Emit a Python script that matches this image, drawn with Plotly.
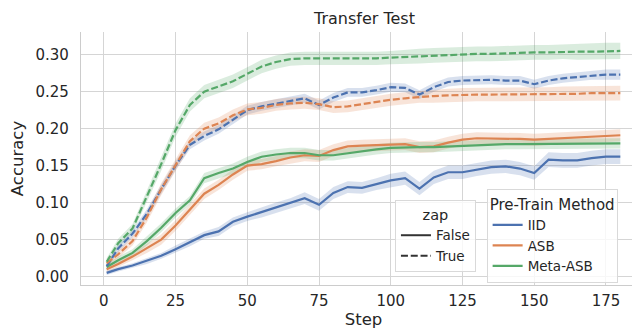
import plotly.graph_objects as go

steps = [1] + list(range(5, 181, 5))

iid_false = [0.005, 0.010, 0.015, 0.021, 0.028, 0.037, 0.046, 0.056, 0.061, 0.074, 0.081, 0.087, 0.093,
             0.099, 0.106, 0.097, 0.113, 0.121, 0.120, 0.125, 0.130, 0.133, 0.119, 0.134, 0.141, 0.141,
             0.145, 0.148, 0.149, 0.146, 0.140, 0.158, 0.157, 0.157, 0.160, 0.162, 0.162]
asb_false = [0.010, 0.017, 0.027, 0.038, 0.050, 0.069, 0.090, 0.112, 0.124, 0.138, 0.150, 0.152, 0.156,
             0.161, 0.164, 0.163, 0.171, 0.176, 0.177, 0.178, 0.178, 0.179, 0.175, 0.176, 0.181, 0.185,
             0.187, 0.187, 0.187, 0.186, 0.185, 0.186, 0.187, 0.188, 0.190, 0.191, 0.191]
meta_false = [0.013, 0.022, 0.032, 0.048, 0.066, 0.086, 0.103, 0.133, 0.140, 0.146, 0.155, 0.162, 0.165,
              0.167, 0.167, 0.164, 0.164, 0.167, 0.170, 0.172, 0.174, 0.175, 0.175, 0.175, 0.176, 0.177,
              0.178, 0.178, 0.179, 0.179, 0.179, 0.179, 0.180, 0.180, 0.180, 0.180, 0.180]
iid_true = [0.014, 0.038, 0.058, 0.085, 0.118, 0.150, 0.178, 0.190, 0.199, 0.212, 0.225, 0.230, 0.234,
            0.237, 0.241, 0.232, 0.242, 0.249, 0.249, 0.252, 0.256, 0.255, 0.246, 0.256, 0.263, 0.265,
            0.266, 0.266, 0.265, 0.265, 0.260, 0.265, 0.268, 0.270, 0.272, 0.273, 0.273]
asb_true = [0.018, 0.030, 0.048, 0.080, 0.118, 0.151, 0.183, 0.200, 0.207, 0.218, 0.226, 0.228, 0.232,
            0.234, 0.235, 0.233, 0.229, 0.230, 0.233, 0.237, 0.239, 0.241, 0.243, 0.244, 0.245, 0.246,
            0.246, 0.246, 0.246, 0.246, 0.246, 0.247, 0.247, 0.247, 0.248, 0.248, 0.248]
meta_true = [0.020, 0.045, 0.065, 0.108, 0.152, 0.198, 0.232, 0.250, 0.257, 0.264, 0.274, 0.284, 0.290,
             0.294, 0.295, 0.295, 0.295, 0.294, 0.294, 0.295, 0.296, 0.297, 0.298, 0.299, 0.300, 0.300,
             0.301, 0.301, 0.302, 0.302, 0.303, 0.303, 0.304, 0.304, 0.304, 0.305, 0.305]

# half-width of the shaded confidence band
iid_false_err = [0.003, 0.003, 0.003, 0.004, 0.004, 0.005, 0.005, 0.005, 0.006, 0.006, 0.006, 0.007, 0.007,
                 0.007, 0.008, 0.008, 0.008, 0.008, 0.008, 0.008, 0.009, 0.009, 0.009, 0.009, 0.009, 0.009,
                 0.009, 0.009, 0.009, 0.009, 0.009, 0.010, 0.010, 0.010, 0.010, 0.010, 0.010]
asb_false_err = [0.004, 0.004, 0.005, 0.006, 0.007, 0.007, 0.007, 0.007, 0.007, 0.007, 0.007, 0.007, 0.007,
                 0.008, 0.008, 0.008, 0.008, 0.008, 0.008, 0.008, 0.008, 0.008, 0.008, 0.008, 0.008, 0.008,
                 0.008, 0.008, 0.008, 0.008, 0.008, 0.008, 0.008, 0.008, 0.008, 0.008, 0.008]
meta_false_err = [0.004, 0.005, 0.005, 0.006, 0.006, 0.006, 0.006, 0.007, 0.007, 0.007, 0.007, 0.007, 0.007,
                  0.007, 0.007, 0.007, 0.007, 0.007, 0.007, 0.007, 0.007, 0.007, 0.007, 0.007, 0.007, 0.007,
                  0.007, 0.007, 0.007, 0.007, 0.007, 0.007, 0.007, 0.007, 0.007, 0.007, 0.007]
iid_true_err = [0.004, 0.005, 0.005, 0.006, 0.006, 0.006, 0.006, 0.006, 0.006, 0.006, 0.006, 0.006, 0.006,
                0.006, 0.006, 0.006, 0.006, 0.006, 0.006, 0.006, 0.006, 0.006, 0.006, 0.006, 0.006, 0.006,
                0.006, 0.006, 0.006, 0.006, 0.006, 0.006, 0.006, 0.006, 0.006, 0.007, 0.007]
asb_true_err = [0.004, 0.005, 0.006, 0.007, 0.008, 0.008, 0.008, 0.008, 0.008, 0.008, 0.008, 0.008, 0.008,
                0.008, 0.008, 0.008, 0.008, 0.008, 0.008, 0.008, 0.008, 0.008, 0.008, 0.009, 0.009, 0.009,
                0.009, 0.009, 0.009, 0.009, 0.009, 0.009, 0.010, 0.010, 0.010, 0.010, 0.010]
meta_true_err = [0.005, 0.006, 0.006, 0.008, 0.009, 0.009, 0.009, 0.009, 0.009, 0.009, 0.009, 0.009, 0.009,
                 0.009, 0.009, 0.009, 0.009, 0.009, 0.009, 0.009, 0.009, 0.010, 0.010, 0.010, 0.010, 0.010,
                 0.010, 0.010, 0.010, 0.010, 0.010, 0.010, 0.010, 0.011, 0.011, 0.011, 0.011]

methods = ["IID", "ASB", "Meta-ASB"]
zap_labels = ["False", "True"]
colors = {"IID": "#4c72b0", "ASB": "#dd8452", "Meta-ASB": "#55a868"}
fills = {"IID": "rgba(76,114,176,0.22)", "ASB": "rgba(221,132,82,0.22)", "Meta-ASB": "rgba(85,168,104,0.22)"}

series = [
    ("IID", "False", iid_false, iid_false_err),
    ("ASB", "False", asb_false, asb_false_err),
    ("Meta-ASB", "False", meta_false, meta_false_err),
    ("IID", "True", iid_true, iid_true_err),
    ("ASB", "True", asb_true, asb_true_err),
    ("Meta-ASB", "True", meta_true, meta_true_err),
]

fig = go.Figure()
for m, z, vals, err in series:
    lo = [v - e for v, e in zip(vals, err)]
    hi = [v + e for v, e in zip(vals, err)]
    fig.add_trace(go.Scatter(x=steps, y=lo, mode="lines", line=dict(width=0, color=colors[m]),
                             showlegend=False, hoverinfo="skip"))
    fig.add_trace(go.Scatter(x=steps, y=hi, mode="lines", line=dict(width=0, color=colors[m]),
                             fill="tonexty", fillcolor=fills[m], showlegend=False, hoverinfo="skip"))
for m, z, vals, err in series:
    fig.add_trace(go.Scatter(x=steps, y=vals, mode="lines",
                             line=dict(color=colors[m], width=2.2,
                                       dash="solid" if z == "False" else "7px,2.8px"),
                             showlegend=False))

# legend entries
for z in zap_labels:
    fig.add_trace(go.Scatter(x=[None], y=[None], mode="lines", name=z,
                             line=dict(color="#333333", width=2,
                                       dash="solid" if z == "False" else "7px,2.8px"),
                             legend="legend"))
for m in methods:
    fig.add_trace(go.Scatter(x=[None], y=[None], mode="lines", name=m,
                             line=dict(color=colors[m], width=2.2), legend="legend2"))

W, H = 640, 331
L, R, T, B = 73.3, 1.6, 24.3, 54.3
pw, ph = W - L - R, H - T - B

def px(xp):
    return (xp - L) / pw

def py(yp):
    return (H - B - yp) / ph

fig.update_layout(
    width=W, height=H,
    margin=dict(l=L, r=R, t=T, b=B, pad=0),
    paper_bgcolor="white", plot_bgcolor="white",
    font=dict(family="DejaVu Sans", size=14, color="#262626"),
    annotations=[dict(text="Transfer Test", xref="paper", yref="paper", x=0.5, y=py(11),
                      xanchor="center", yanchor="middle", showarrow=False,
                      font=dict(size=16, color="#262626"))],
    legend=dict(title=dict(text="zap", side="top center", font=dict(size=14.5)),
                x=px(387.3), y=py(192), xanchor="left", yanchor="top", traceorder="normal",
                bgcolor="rgba(255,255,255,0.8)", bordercolor="#d9d9d9", borderwidth=1,
                font=dict(size=13.5), tracegroupgap=0, itemwidth=30),
    legend2=dict(title=dict(text="Pre-Train Method", side="top center", font=dict(size=15)),
                 x=px(479), y=py(181), xanchor="left", yanchor="top", traceorder="normal",
                 bgcolor="rgba(255,255,255,0.8)", bordercolor="#d9d9d9", borderwidth=1,
                 font=dict(size=13.5), tracegroupgap=0, itemwidth=30),
    xaxis=dict(range=[-7.95, 188.95], tickvals=[0, 25, 50, 75, 100, 125, 150, 175],
               showgrid=True, gridcolor="#d5d5d5", gridwidth=1, zeroline=False,
               showline=True, linecolor="#cccccc", linewidth=1.3,
               ticks="outside", ticklen=2, tickcolor="rgba(0,0,0,0)",
               tickfont=dict(size=15), title=dict(text="Step", font=dict(size=16.5), standoff=2)),
    yaxis=dict(range=[-0.0114, 0.3306], tickvals=[0, 0.05, 0.10, 0.15, 0.20, 0.25, 0.30],
               tickformat=".2f",
               showgrid=True, gridcolor="#d5d5d5", gridwidth=1, zeroline=False,
               showline=True, linecolor="#cccccc", linewidth=1.3,
               ticks="outside", ticklen=8, tickcolor="rgba(0,0,0,0)",
               tickfont=dict(size=15), title=dict(text="Accuracy", font=dict(size=16.5), standoff=15)),
)

fig.write_html("out.html")
